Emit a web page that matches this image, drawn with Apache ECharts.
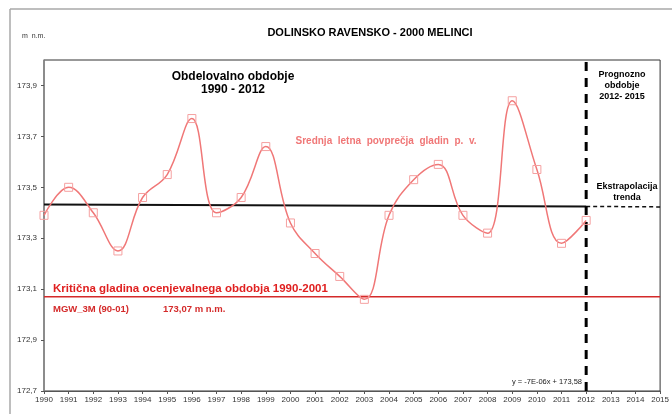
<!DOCTYPE html>
<html>
<head>
<meta charset="utf-8">
<title>DOLINSKO RAVENSKO - 2000 MELINCI</title>
<script src="https://cdn.jsdelivr.net/npm/echarts@6/dist/echarts.min.js"></script>
<style>
  html, body { margin: 0; padding: 0; background: #ffffff; }
  #chart { width: 672px; height: 414px; }
</style>
</head>
<body>
<div id="chart"></div>
<script>
// Mean annual groundwater levels, Melinci 2000 station (m n.m.)
const years = [1990, 1991, 1992, 1993, 1994, 1995, 1996, 1997, 1998, 1999, 2000, 2001,
               2002, 2003, 2004, 2005, 2006, 2007, 2008, 2009, 2010, 2011, 2012];
const levels = [173.39, 173.50, 173.40, 173.25, 173.46, 173.55, 173.77, 173.40, 173.46, 173.66, 173.36, 173.24,
                173.15, 173.06, 173.39, 173.53, 173.59, 173.39, 173.32, 173.84, 173.57, 173.28, 173.37];

// Linear trend over the working period and its extrapolation to 2015
const trendYears = [1990, 2012];
const trendValues = [173.432, 173.425];
const extrapYears = [2012, 2015];
const extrapValues = [173.425, 173.423];

// Critical level of the assessment period 1990-2001 (MGW_3M)
const criticalYears = [1990, 2015];
const criticalValues = [173.07, 173.07];

// Boundary between working and forecast period
const boundaryYears = [2012, 2012];
const boundaryValues = [172.7, 174.0];

// Axis ticks
const yTicks = [172.7, 172.9, 173.1, 173.3, 173.5, 173.7, 173.9];
const xMin = 1990, xMax = 2015;
const yMin = 172.7, yMax = 174.0;

const pairs = (xs, ys) => xs.map((x, i) => [x, ys[i]]);
const FONT = '"Liberation Sans", Arial, sans-serif';

const chart = echarts.init(document.getElementById('chart'), null, { renderer: 'canvas' });

chart.setOption({
  animation: false,
  backgroundColor: '#ffffff',
  textStyle: { fontFamily: FONT },
  grid: { left: 44, right: 10, top: 60, bottom: 23, show: true, borderColor: '#333333', borderWidth: 1 },
  xAxis: {
    type: 'value', min: xMin, max: xMax, interval: 1,
    axisLine: { show: true, lineStyle: { color: '#555555', width: 1 } },
    axisTick: { show: true, length: 3, lineStyle: { color: '#555555' } },
    axisLabel: { fontSize: 8, color: '#333333', margin: 5, formatter: v => String(v) },
    splitLine: { show: false }
  },
  yAxis: {
    type: 'value', min: yMin, max: yMax,
    axisLine: { show: true, lineStyle: { color: '#888888', width: 1.5 } },
    axisTick: { show: true, length: 3, customValues: yTicks, lineStyle: { color: '#555555' } },
    axisLabel: {
      fontSize: 8, color: '#333333', margin: 7, customValues: yTicks,
      formatter: v => v.toFixed(1).replace('.', ',')
    },
    splitLine: { show: false }
  },
  series: [
    {
      name: 'critical', type: 'line', data: pairs(criticalYears, criticalValues),
      symbol: 'none', lineStyle: { color: '#d42a2a', width: 1.5 }, z: 2
    },
    {
      name: 'trend', type: 'line', data: pairs(trendYears, trendValues),
      symbol: 'none', lineStyle: { color: '#111111', width: 2 }, z: 2
    },
    {
      name: 'extrapolation', type: 'line', data: pairs(extrapYears, extrapValues),
      symbol: 'none', lineStyle: { color: '#111111', width: 1.5, type: [4, 3] }, z: 2
    },
    {
      name: 'boundary', type: 'line', data: pairs(boundaryYears, boundaryValues),
      symbol: 'none', lineStyle: { color: '#000000', width: 3, type: [9, 7] }, z: 3
    },
    {
      name: 'Srednja letna povprečja gladin p. v.', type: 'line',
      data: pairs(years, levels),
      smooth: 0.4,
      symbol: 'rect', symbolSize: 8,
      lineStyle: { color: '#f07777', width: 1.5 },
      itemStyle: { color: 'rgba(255,255,255,0)', borderColor: '#f5a0a0', borderWidth: 1 },
      z: 4
    }
  ],
  graphic: [
    // outer chart frame
    { type: 'line', shape: { x1: 10, y1: 9, x2: 672, y2: 9 }, style: { stroke: '#a8a8a8', lineWidth: 1.5 }, silent: true },
    { type: 'line', shape: { x1: 10, y1: 9, x2: 10, y2: 414 }, style: { stroke: '#a8a8a8', lineWidth: 1.5 }, silent: true },
    { type: 'text', x: 370, y: 33, style: { text: 'DOLINSKO RAVENSKO - 2000 MELINCI', font: 'bold 11px ' + FONT, fill: '#000000', textAlign: 'center', textVerticalAlign: 'middle' } },
    { type: 'text', x: 22, y: 36, style: { text: 'm  n.m.', font: '7px ' + FONT, fill: '#333333', textAlign: 'left', textVerticalAlign: 'middle' } },
    { type: 'text', x: 233, y: 83, style: { text: 'Obdelovalno obdobje\n1990 - 2012', font: 'bold 12px ' + FONT, lineHeight: 13, fill: '#000000', textAlign: 'center', textVerticalAlign: 'middle' } },
    { type: 'text', x: 386, y: 141, style: { text: 'Srednja  letna  povprečja  gladin  p.  v.', font: 'bold 10px ' + FONT, fill: '#f07777', textAlign: 'center', textVerticalAlign: 'middle' } },
    { type: 'text', x: 622, y: 86, style: { text: 'Prognozno\nobdobje\n2012- 2015', font: 'bold 9px ' + FONT, lineHeight: 11, fill: '#000000', textAlign: 'center', textVerticalAlign: 'middle' } },
    { type: 'text', x: 627, y: 192, style: { text: 'Ekstrapolacija\ntrenda', font: 'bold 9px ' + FONT, lineHeight: 11, fill: '#000000', textAlign: 'center', textVerticalAlign: 'middle' } },
    { type: 'text', x: 53, y: 289, style: { text: 'Kritična gladina ocenjevalnega obdobja 1990-2001', font: 'bold 11.5px ' + FONT, fill: '#e02020', textAlign: 'left', textVerticalAlign: 'middle' } },
    { type: 'text', x: 53, y: 309, style: { text: 'MGW_3M (90-01)', font: 'bold 9.5px ' + FONT, fill: '#d42a2a', textAlign: 'left', textVerticalAlign: 'middle' } },
    { type: 'text', x: 163, y: 309, style: { text: '173,07 m n.m.', font: 'bold 9.5px ' + FONT, fill: '#d42a2a', textAlign: 'left', textVerticalAlign: 'middle' } },
    { type: 'text', x: 582, y: 382, style: { text: 'y = -7E-06x + 173,58', font: '7.5px ' + FONT, fill: '#222222', textAlign: 'right', textVerticalAlign: 'middle' } }
  ]
});
</script>
</body>
</html>
